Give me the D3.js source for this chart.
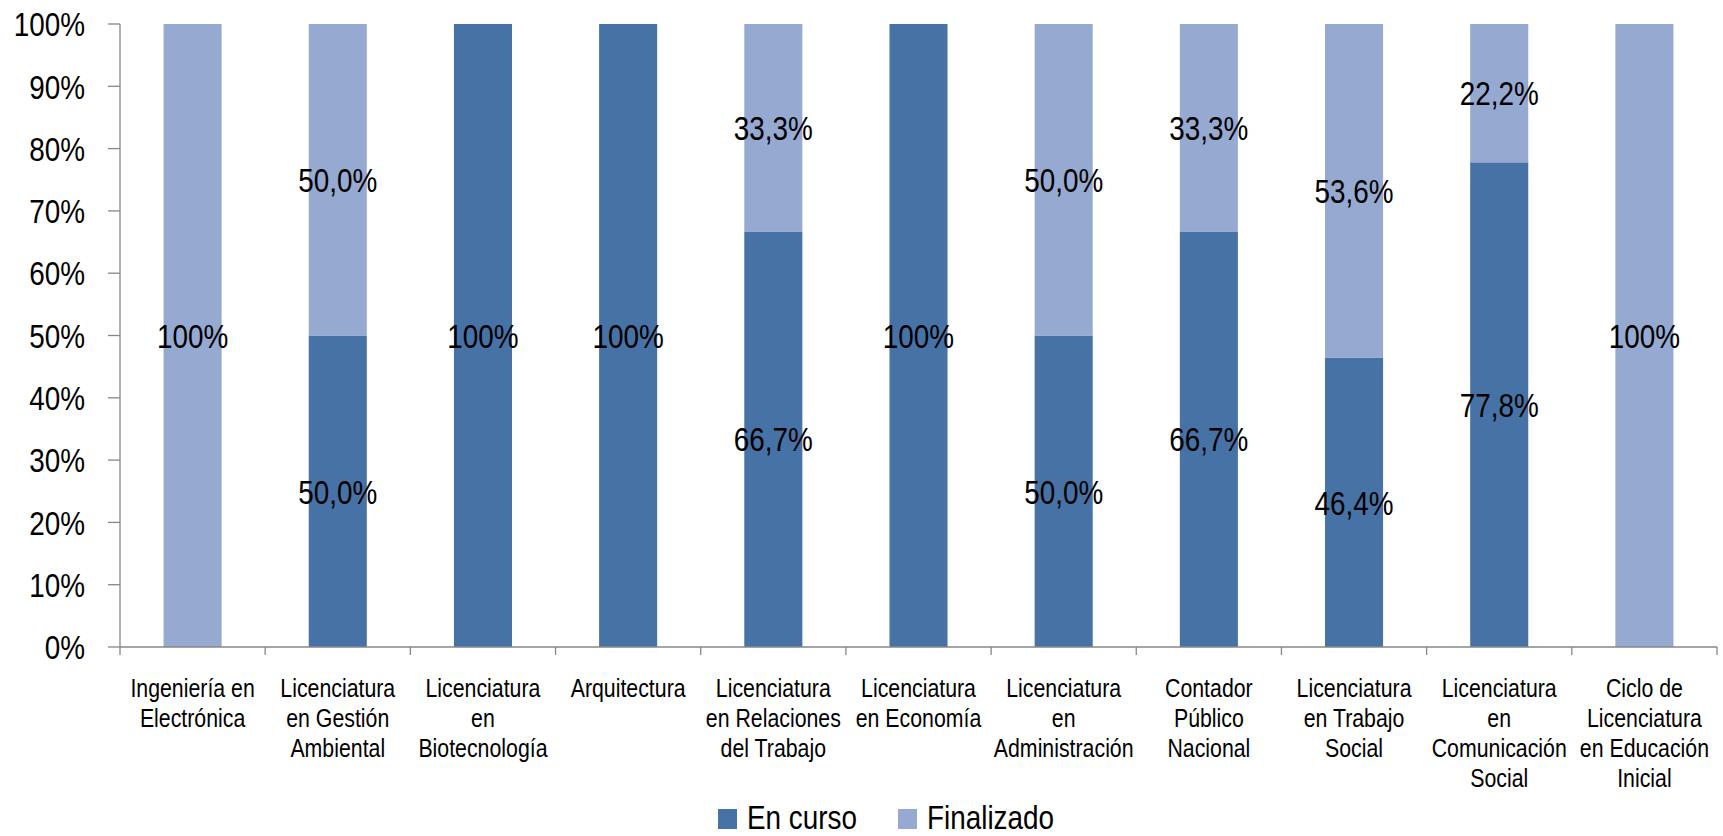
<!DOCTYPE html>
<html>
<head>
<meta charset="utf-8">
<script src="https://cdn.jsdelivr.net/npm/d3@7/dist/d3.min.js"></script>
<style>
  html, body { margin: 0; padding: 0; background: #ffffff; }
  svg text { font-family: "Liberation Sans", Arial, sans-serif; fill: #000; }
</style>
</head>
<body>
<svg id="chart" width="1723" height="836"></svg>
<script>
const categories = [
  "Ingeniería en|Electrónica",
  "Licenciatura|en Gestión|Ambiental",
  "Licenciatura|en|Biotecnología",
  "Arquitectura",
  "Licenciatura|en Relaciones|del Trabajo",
  "Licenciatura|en Economía",
  "Licenciatura|en|Administración",
  "Contador|Público|Nacional",
  "Licenciatura|en Trabajo|Social",
  "Licenciatura|en|Comunicación|Social",
  "Ciclo de|Licenciatura|en Educación|Inicial"
];
const enCurso    = [0, 50.0, 100, 100, 66.7, 100, 50.0, 66.7, 46.4, 77.8, 0];
const finalizado = [100, 50.0, 0, 0, 33.3, 0, 50.0, 33.3, 53.6, 22.2, 100];
const seriesNames = ["En curso", "Finalizado"];
const seriesColors = ["#4672A6", "#95A9D1"];
const yTicks = [0, 10, 20, 30, 40, 50, 60, 70, 80, 90, 100];

const svg = d3.select("#chart");
const margin = { left: 120, right: 6, top: 24, bottom: 189 };
const W = 1723, H = 836;
const SX = 0.82; // narrow font emulation
const x = d3.scaleBand().domain(d3.range(categories.length)).range([margin.left, W - margin.right]).paddingInner(0.6).paddingOuter(0.3);
const xb = d3.scaleBand().domain(d3.range(categories.length)).range([margin.left, W - margin.right]);
const y = d3.scaleLinear().domain([0, 100]).range([H - margin.bottom, margin.top]);

const axisColor = "#878787";

function ntext(g, px, py, str, size, anchor, dy) {
  return g.append("text")
    .attr("transform", `translate(${px},${py}) scale(${SX},1)`)
    .attr("dy", dy || "0.36em")
    .attr("text-anchor", anchor || "middle")
    .attr("font-size", size)
    .text(str);
}

const rows = categories.map((c, i) => ({ i, v: [enCurso[i], finalizado[i]] }));
const stack = d3.stack().keys([0, 1]).value((d, k) => d.v[k]);
const stacked = stack(rows);

const fmt = v => v === 100 ? "100%" : d3.format(".1f")(v).replace(".", ",") + "%";

stacked.forEach((layer, k) => {
  svg.append("g").selectAll("rect").data(layer).join("rect")
    .attr("x", d => x(d.data.i))
    .attr("width", x.bandwidth())
    .attr("y", d => y(d[1]))
    .attr("height", d => y(d[0]) - y(d[1]))
    .attr("fill", seriesColors[k]);
});

// y axis
const yAxis = svg.append("g");
yAxis.append("line").attr("x1", margin.left).attr("x2", margin.left).attr("y1", y(0)).attr("y2", y(100)).attr("stroke", axisColor).attr("stroke-width", 1.3);
yTicks.forEach(t => {
  yAxis.append("line").attr("x1", margin.left - 12).attr("x2", margin.left).attr("y1", y(t)).attr("y2", y(t)).attr("stroke", axisColor).attr("stroke-width", 1.3);
  ntext(yAxis, 85, y(t), t + "%", 34, "end");
});

// x axis
const xAxis = svg.append("g");
xAxis.append("line").attr("x1", margin.left).attr("x2", W - margin.right).attr("y1", y(0)).attr("y2", y(0)).attr("stroke", axisColor).attr("stroke-width", 1.3);
d3.range(categories.length + 1).forEach(i => {
  const xp = i < categories.length ? xb(i) : xb.range()[1];
  xAxis.append("line").attr("x1", xp).attr("x2", xp).attr("y1", y(0)).attr("y2", y(0) + 8).attr("stroke", axisColor).attr("stroke-width", 1.3);
});
categories.forEach((c, i) => {
  c.split("|").forEach((ln, j) => {
    ntext(xAxis, xb(i) + xb.bandwidth() / 2, 688 + j * 30, ln, 26, "middle");
  });
});

// data labels
stacked.forEach((layer, k) => {
  const g = svg.append("g");
  layer.filter(d => d[1] - d[0] > 0).forEach(d => {
    ntext(g, x(d.data.i) + x.bandwidth() / 2, y((d[0] + d[1]) / 2), fmt(d[1] - d[0]), 34, "middle");
  });
});

// legend
const lg = svg.append("g");
const legX = [718, 898];
seriesNames.forEach((n, k) => {
  lg.append("rect").attr("x", legX[k]).attr("y", 809).attr("width", 19).attr("height", 20).attr("fill", seriesColors[k]);
  ntext(lg, legX[k] + 29, 829, n, 34, "start", "0");
});
</script>
</body>
</html>
